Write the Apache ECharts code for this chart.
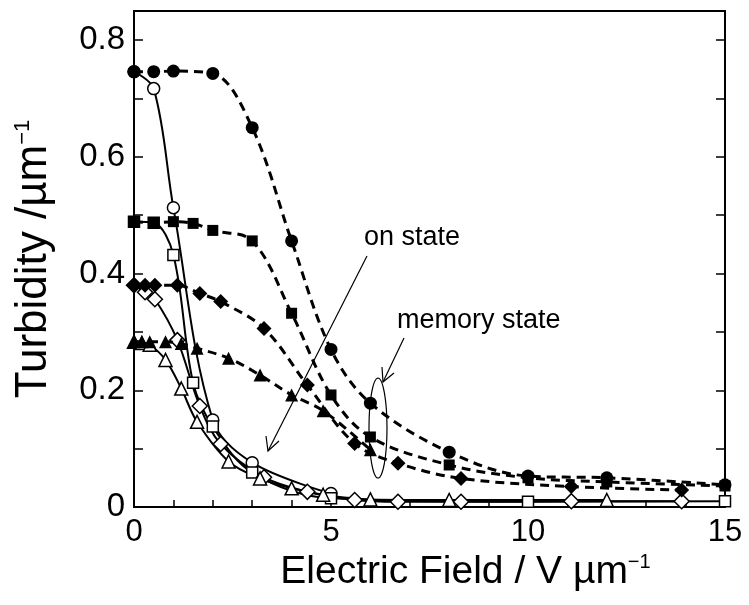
<!DOCTYPE html>
<html>
<head>
<meta charset="utf-8">
<script src="https://cdn.jsdelivr.net/npm/echarts@6/dist/echarts.min.js"></script>
<style>
html,body{margin:0;padding:0;background:#fff;}
#c{width:749px;height:605px;}
</style>
</head>
<body>
<div id="c"></div>
<script>
// ---- data ----
// memory state (filled symbols, dashed lines)
const xMemCircle = [0, 0.5, 1, 2, 3, 4, 5, 6, 8, 10, 12, 15];
const yMemCircle = [0.746, 0.746, 0.747, 0.743, 0.650, 0.456, 0.270, 0.178, 0.094, 0.053, 0.050, 0.038];
const xMemSquare = [0, 0.5, 1, 1.5, 2, 3, 4, 5, 6, 8, 10, 12, 15];
const yMemSquare = [0.489, 0.487, 0.489, 0.486, 0.474, 0.456, 0.332, 0.192, 0.120, 0.072, 0.050, 0.043, 0.036];
const xMemDiamond = [0, 0.28, 0.53, 1.1, 1.67, 2.2, 3.3, 4.4, 5.6, 6.7, 8.3, 11.1, 13.9];
const yMemDiamond = [0.380, 0.380, 0.380, 0.380, 0.366, 0.352, 0.306, 0.209, 0.109, 0.075, 0.049, 0.035, 0.029];
const xMemTriangle = [0, 0.2, 0.4, 0.8, 1.2, 1.6, 2.4, 3.2, 4.0, 4.8, 6.0];
const yMemTriangle = [0.283, 0.283, 0.283, 0.283, 0.280, 0.272, 0.255, 0.226, 0.192, 0.165, 0.098];
// on state (open symbols, solid lines)
const xOnCircle = [0, 0.5, 1, 2, 3, 5];
const yOnCircle = [0.746, 0.717, 0.513, 0.149, 0.076, 0.023];
const xOnSquare = [0, 0.5, 1, 1.5, 2, 3, 5, 10, 15];
const yOnSquare = [0.489, 0.487, 0.432, 0.213, 0.138, 0.059, 0.015, 0.009, 0.010];
const xOnDiamond = [0, 0.28, 0.53, 1.1, 1.67, 2.2, 3.3, 4.4, 5.6, 6.7, 8.3, 11.1, 13.9];
const yOnDiamond = [0.380, 0.368, 0.356, 0.286, 0.173, 0.108, 0.051, 0.026, 0.012, 0.009, 0.009, 0.010, 0.010];
const xOnTriangle = [0, 0.2, 0.4, 0.8, 1.2, 1.6, 2.4, 3.2, 4.0, 4.8, 6.0, 8, 12];
const yOnTriangle = [0.283, 0.281, 0.278, 0.252, 0.203, 0.146, 0.078, 0.049, 0.032, 0.021, 0.013, 0.012, 0.012];

// tick labels
const xTickValues = [0, 5, 10, 15];
const xTickLabels = ['0', '5', '10', '15'];
const yTickValues = [0, 0.2, 0.4, 0.6, 0.8];
const yTickLabels = ['0', '0.2', '0.4', '0.6', '0.8'];

const FONT = '"Liberation Sans", Arial, Helvetica, sans-serif';

function zip(xs, ys) { return xs.map((x, i) => [x, ys[i]]); }

function series(name, xs, ys, symbol, size, filled) {
  return {
    name: name,
    type: 'line',
    data: zip(xs, ys),
    symbol: symbol,
    symbolSize: size,
    smooth: 0.35,
    z: filled ? 4 : 3,
    itemStyle: filled ? { color: '#000' } : { color: '#fff', borderColor: '#000', borderWidth: 1.5 },
    lineStyle: filled ? { color: '#000', width: 3, type: [9, 6] } : { color: '#000', width: 2, type: 'solid' },
    emphasis: { disabled: true },
    animation: false
  };
}

const chart = echarts.init(document.getElementById('c'), null, { renderer: 'canvas' });

function labelFor(values, labels, v) {
  for (let i = 0; i < values.length; i++) {
    if (Math.abs(values[i] - v) < 1e-6) return labels[i];
  }
  return '';
}

const option = {
  backgroundColor: '#fff',
  animation: false,
  textStyle: { fontFamily: FONT },
  grid: { left: 134, right: 24, top: 11, bottom: 98 },
  xAxis: [{
    type: 'value', min: 0, max: 15, interval: 1,
    axisLine: { show: true, onZero: false, lineStyle: { color: '#000', width: 2 } },
    axisTick: { show: true, inside: true, length: 7, lineStyle: { color: '#000', width: 1.5 } },
    axisLabel: { color: '#000', fontSize: 31, fontFamily: FONT, margin: 10,
      formatter: v => labelFor(xTickValues, xTickLabels, v) },
    splitLine: { show: false },
    name: '{t|Electric Field / V µm}{s|−1}',
    nameLocation: 'middle', nameGap: 40,
    nameTextStyle: { color: '#000', fontFamily: FONT, padding: [0, 0, 0, 72],
      rich: { t: { fontSize: 39, fontFamily: FONT, color: '#000', verticalAlign: 'bottom' },
              s: { fontSize: 20, fontFamily: FONT, color: '#000', verticalAlign: 'top' } } }
  }, {
    type: 'value', min: 0, max: 15, position: 'top',
    axisLine: { show: true, onZero: false, lineStyle: { color: '#000', width: 2 } },
    axisTick: { show: false }, axisLabel: { show: false }, splitLine: { show: false }
  }],
  yAxis: [{
    type: 'value', min: 0, max: 0.85, interval: 0.1,
    axisLine: { show: true, onZero: false, lineStyle: { color: '#000', width: 2 } },
    axisTick: { show: true, inside: true, length: 9, lineStyle: { color: '#000', width: 1.5 } },
    axisLabel: { color: '#000', fontSize: 33, fontFamily: FONT, margin: 9,
      showMaxLabel: false,
      formatter: v => labelFor(yTickValues, yTickLabels, v) },
    splitLine: { show: false },
    name: '{t|Turbidity /µm}{s|−1}',
    nameLocation: 'middle', nameGap: 78, nameRotate: 90,
    nameTextStyle: { color: '#000', fontFamily: FONT,
      rich: { t: { fontSize: 44, fontFamily: FONT, color: '#000', verticalAlign: 'bottom' },
              s: { fontSize: 22, fontFamily: FONT, color: '#000', verticalAlign: 'top' } } }
  }, {
    type: 'value', min: 0, max: 0.85, interval: 0.1, position: 'right',
    axisLine: { show: true, onZero: false, lineStyle: { color: '#000', width: 2 } },
    axisTick: { show: true, inside: true, length: 9, lineStyle: { color: '#000', width: 1.5 } },
    axisLabel: { show: false }, splitLine: { show: false }
  }],
  series: [
    series('on circle', xOnCircle, yOnCircle, 'circle', 12, false),
    series('on square', xOnSquare, yOnSquare, 'rect', 11, false),
    series('on diamond', xOnDiamond, yOnDiamond, 'diamond', 15, false),
    series('on triangle', xOnTriangle, yOnTriangle, 'triangle', 13, false),
    series('memory circle', xMemCircle, yMemCircle, 'circle', 13, true),
    series('memory square', xMemSquare, yMemSquare, 'rect', 11, true),
    series('memory diamond', xMemDiamond, yMemDiamond, 'diamond', 15, true),
    series('memory triangle', xMemTriangle, yMemTriangle, 'triangle', 13, true)
  ],
  graphic: [
    { type: 'text', left: 364, top: 224, z: 10,
      style: { text: 'on state', font: '27px ' + FONT, fill: '#000' } },
    { type: 'text', left: 397, top: 307, z: 10,
      style: { text: 'memory state', font: '27px ' + FONT, fill: '#000' } },
    { type: 'line', z: 10, shape: { x1: 367, y1: 256, x2: 268, y2: 451 },
      style: { stroke: '#000', lineWidth: 1.2 } },
    { type: 'polyline', z: 10, shape: { points: [[266, 436], [268, 451], [279, 441]] },
      style: { stroke: '#000', lineWidth: 1.2, fill: null } },
    { type: 'line', z: 10, shape: { x1: 404, y1: 338, x2: 383, y2: 382 },
      style: { stroke: '#000', lineWidth: 1.2 } },
    { type: 'polyline', z: 10, shape: { points: [[382, 367], [383, 382], [394, 373]] },
      style: { stroke: '#000', lineWidth: 1.2, fill: null } },
    { type: 'ellipse', z: 10, shape: { cx: 378, cy: 428, rx: 9, ry: 50 },
      style: { stroke: '#000', lineWidth: 1.2, fill: null } }
  ]
};

chart.setOption(option);
</script>
</body>
</html>
